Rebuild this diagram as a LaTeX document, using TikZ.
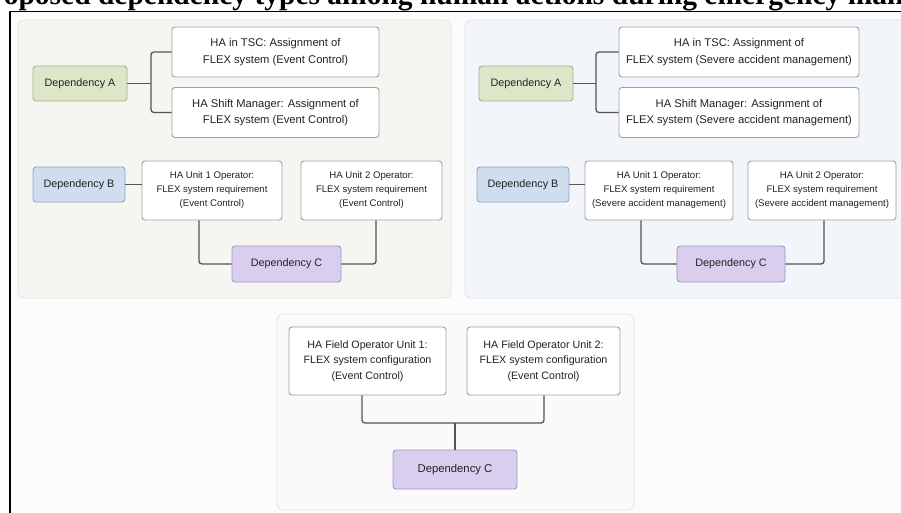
\documentclass[tikz,border=0pt]{standalone}
\usepackage{fontspec}
\setmainfont{Liberation Sans}
\newfontfamily\titlefont{Liberation Serif}
\usetikzlibrary{positioning,calc}
\definecolor{LineGray}{HTML}{555555}
\definecolor{BoxEdge}{HTML}{A0A0A0}
\definecolor{BodyText}{HTML}{222222}
\definecolor{DepAFill}{HTML}{DDE6C9}
\definecolor{DepAEdge}{HTML}{A7B286}
\definecolor{DepBFill}{HTML}{CFDDEE}
\definecolor{DepBEdge}{HTML}{8FA7C4}
\definecolor{DepCFill}{HTML}{D9CEEE}
\definecolor{DepCEdge}{HTML}{A493C8}
\definecolor{PanelGreen}{HTML}{F5F5F1}
\definecolor{PanelBlue}{HTML}{F2F5FA}
\definecolor{PanelGray}{HTML}{FAFAFA}
\definecolor{PanelEdge}{HTML}{E3E3DF}
\definecolor{PageBg}{HTML}{FCFCFC}

\tikzset{
  habox/.style={draw=BoxEdge,fill=white,rounded corners=3pt,line width=0.9pt,
    align=center,inner sep=0pt,text=BodyText},
  bigbox/.style={habox,minimum height=50pt,font=\fontsize{11.2}{16.5}\selectfont},
  unitbox/.style={habox,minimum height=59pt,font=\fontsize{9.6}{14}\selectfont},
  fieldbox/.style={habox,minimum height=68pt,font=\fontsize{10.7}{15.5}\selectfont},
  depbox/.style={rounded corners=3pt,line width=0.9pt,inner sep=0pt,text=BodyText,
    minimum height=35pt,font=\fontsize{10.8}{13}\selectfont},
  link/.style={draw=LineGray,line width=1.3pt,rounded corners=3pt},
  panel/.style={rounded corners=6pt,line width=0.8pt},
}

\begin{document}
\begin{tikzpicture}[x=1pt,y=-1pt]
  \useasboundingbox (0,0) rectangle (901,513);
  \begin{scope}
  \clip (0,0) rectangle (901,513);
  \fill[white] (0,0) rectangle (901,513);
  \fill[PageBg] (10,11.5) rectangle (901,513);
  \node[anchor=base west,inner sep=0pt,
    font=\titlefont\bfseries\fontsize{29.5}{34}\selectfont] (title)
    at (-27,4.5) {Proposed dependency types among human actions during emergency management};
  \draw[line width=1.6pt] (10,513) -- (10,11.5) -- (901,11.5);

  \filldraw[panel,fill=PanelGreen,draw=PanelEdge] (18,20) rectangle (451,298);
  \filldraw[panel,fill=PanelBlue,draw=PanelEdge] (465,20) rectangle (905,298);
  \filldraw[panel,fill=PanelGray,draw=PanelEdge] (277,314) rectangle (634,510);

  % event control
  \node[depbox,fill=DepAFill,draw=DepAEdge,minimum width=94pt] (depAL) at (80,83.5) {Dependency A};
  \node[bigbox,minimum width=207pt] (tscL) at (275.5,52)
    {HA in TSC: Assignment of\\FLEX system (Event Control)};
  \node[bigbox,minimum width=207pt] (shiftL) at (275.5,112.5)
    {HA Shift Manager: Assignment of\\FLEX system (Event Control)};
  \node[depbox,fill=DepBFill,draw=DepBEdge,minimum width=92pt] (depBL) at (79,184.5) {Dependency B};
  \node[unitbox,minimum width=140pt] (unitoneL) at (212,190.5)
    {HA Unit 1 Operator:\\FLEX system requirement\\(Event Control)};
  \node[unitbox,minimum width=141pt] (unittwoL) at (371.5,190.5)
    {HA Unit 2 Operator:\\FLEX system requirement\\(Event Control)};
  \node[depbox,fill=DepCFill,draw=DepCEdge,minimum width=109pt,minimum height=36pt]
    (depCL) at (286.5,264) {Dependency C};

  \coordinate (jAL) at (151,83.5);
  \draw[link] (depAL.east) -- (jAL);
  \draw[link] (tscL.west) -| (jAL) |- (shiftL.west);
  \draw[link] (depBL.east) -- (depBL.east -| unitoneL.west);
  \draw[link] ([xshift=-13pt]unitoneL.south) |- (depCL.west);
  \draw[link] ([xshift=4.5pt]unittwoL.south) |- (depCL.east);

  % severe accident management
  \node[depbox,fill=DepAFill,draw=DepAEdge,minimum width=94pt] (depAR) at (526,83.5) {Dependency A};
  \node[bigbox,minimum width=240pt] (tscR) at (739,52)
    {HA in TSC: Assignment of\\FLEX system (Severe accident management)};
  \node[bigbox,minimum width=240pt] (shiftR) at (739,112.5)
    {HA Shift Manager: Assignment of\\FLEX system (Severe accident management)};
  \node[depbox,fill=DepBFill,draw=DepBEdge,minimum width=92pt] (depBR) at (523,184.5) {Dependency B};
  \node[unitbox,minimum width=148pt] (unitoneR) at (659,190.5)
    {HA Unit 1 Operator:\\FLEX system requirement\\(Severe accident management)};
  \node[unitbox,minimum width=148pt] (unittwoR) at (822,190.5)
    {HA Unit 2 Operator:\\FLEX system requirement\\(Severe accident management)};
  \node[depbox,fill=DepCFill,draw=DepCEdge,minimum width=108pt,minimum height=36pt]
    (depCR) at (731,264) {Dependency C};

  \coordinate (jAR) at (596,83.5);
  \draw[link] (depAR.east) -- (jAR);
  \draw[link] (tscR.west) -| (jAR) |- (shiftR.west);
  \draw[link] (depBR.east) -- (depBR.east -| unitoneR.west);
  \draw[link] ([xshift=-18pt]unitoneR.south) |- (depCR.west);
  \draw[link] ([xshift=2pt]unittwoR.south) |- (depCR.east);

  % field operators
  \node[fieldbox,minimum width=157pt] (fooneB) at (367.5,361)
    {HA Field Operator Unit 1:\\FLEX system configuration\\(Event Control)};
  \node[fieldbox,minimum width=153pt] (fotwoB) at (543.5,361)
    {HA Field Operator Unit 2:\\FLEX system configuration\\(Event Control)};
  \node[depbox,fill=DepCFill,draw=DepCEdge,minimum width=124pt,minimum height=39pt,
    font=\fontsize{11.3}{13}\selectfont] (depCB) at (455,469.5) {Dependency C};

  \coordinate (jCB) at (455,423);
  \draw[link] ([xshift=-5.5pt]fooneB.south) |- (jCB) -| ([xshift=0.5pt]fotwoB.south);
  \draw[link] (jCB) -- (depCB.north);
  \end{scope}
\end{tikzpicture}
\end{document}
